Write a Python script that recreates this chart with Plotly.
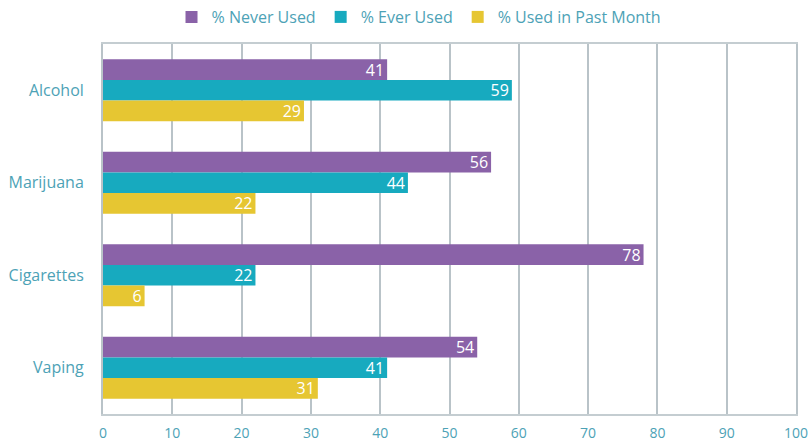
import plotly.graph_objects as go

categories = ["Alcohol", "Marijuana", "Cigarettes", "Vaping"]
never_used = [41, 56, 78, 54]
ever_used = [59, 44, 22, 41]
past_month = [29, 22, 6, 31]
series_names = ["% Never Used", "% Ever Used", "% Used in Past Month"]
colors = ["#8A62A8", "#17AABF", "#E6C632"]
x_ticks = [0, 10, 20, 30, 40, 50, 60, 70, 80, 90, 100]

FONT = "Open Sans"
TXT = "#4DA2B6"

fig = go.Figure()
for name, vals, col in zip(series_names, [never_used, ever_used, past_month], colors):
    fig.add_trace(go.Bar(
        y=categories, x=vals, name=name, orientation="h",
        marker=dict(color=col, line=dict(width=0)),
        text=vals, textposition="inside", insidetextanchor="end", textangle=0,
        textfont=dict(color="white", size=16, family=FONT),
        cliponaxis=False,
    ))

fig.update_layout(
    width=809, height=442,
    margin=dict(l=103, r=13, t=44, b=28, autoexpand=False),
    barmode="group", bargap=0.33, bargroupgap=0,
    plot_bgcolor="white", paper_bgcolor="white",
    font=dict(family=FONT, color=TXT, size=14),
    uniformtext=dict(mode="show", minsize=16),
    legend=dict(orientation="h", xref="container", x=0.212, xanchor="left", y=1.0, yanchor="top",
                yref="container", font=dict(size=16, color=TXT, family=FONT),
                itemwidth=30, traceorder="normal"),
    showlegend=True,
)
fig.update_xaxes(range=[0, 100], tickvals=x_ticks, showgrid=True, gridcolor="#B9C3C8",
                 gridwidth=1.5, showline=True, linecolor="#C4CDD1", linewidth=2, mirror=True,
                 zeroline=False, ticks="", tickfont=dict(size=14, color=TXT), ticklabelstandoff=5,
                 ticklabeloverflow="allow", automargin=False)
fig.update_yaxes(autorange="reversed", showgrid=False, showline=True, linecolor="#B9C3C8",
                 linewidth=2, mirror=True, ticks="", tickfont=dict(size=16, color=TXT),
                 ticklabelstandoff=14, automargin=False)

fig.write_html("out.html", config={"displayModeBar": False},
               post_script="document.body.style.margin='0';document.body.style.overflow='hidden';")
